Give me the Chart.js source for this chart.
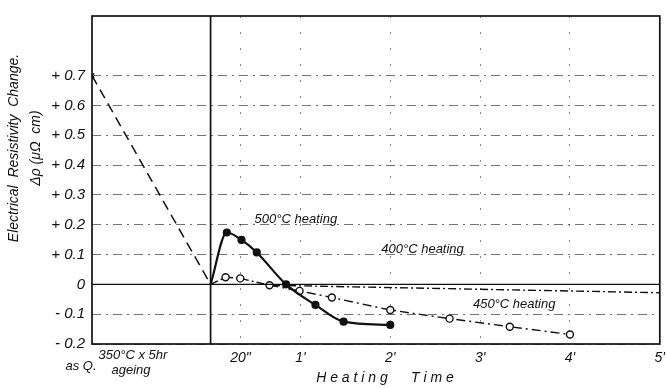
<!DOCTYPE html>
<html>
<head>
<meta charset="utf-8">
<script src="https://cdn.jsdelivr.net/npm/chart.js@4/dist/chart.umd.min.js"></script>
<style>
  body { margin: 0; background: #fff; }
  canvas { display: block; }
</style>
</head>
<body>
<canvas id="resistivityChart" width="666" height="388"></canvas>
<script>
// heating time in minutes (negative side = as quenched / ageing region)
const ageT = [-1.32, 0];
const ageR = [0.70, 0];

const t500 = [0, 0.181, 0.344, 0.514, 0.84, 1.167, 1.48, 2.0];
const r500 = [0, 0.174, 0.149, 0.107, 0.0, -0.069, -0.125, -0.136];

const t400 = [0, 0.167, 0.33, 0.656, 5.0];
const r400 = [0, 0.024, 0.02, -0.003, -0.028];

const t450 = [0.656, 0.99, 1.35, 2.0, 2.66, 3.33, 4.0];
const r450 = [-0.003, -0.022, -0.044, -0.086, -0.115, -0.142, -0.168];

// axis ticks
const yTicks = [-0.2, -0.1, 0, 0.1, 0.2, 0.3, 0.4, 0.5, 0.6, 0.7];
const yLabels = ['- 0.2', '- 0.1', '0', '+ 0.1', '+ 0.2', '+ 0.3', '+ 0.4', '+ 0.5', '+ 0.6', '+ 0.7'];
const xTicks = [1 / 3, 1, 2, 3, 4, 5];
const xLabels = ['20"', "1'", "2'", "3'", "4'", "5'"];

const FONT = '"Liberation Sans", "DejaVu Sans", sans-serif';

function pts(xs, ys) {
    return xs.map((x, i) => ({ x: x, y: ys[i] }));
}

// frame, zero line, ageing divider and text annotations
const decorations = {
    id: 'decorations',
    afterDraw(chart) {
        const ctx = chart.ctx;
        const area = chart.chartArea;
        const x = chart.scales.x;
        const y = chart.scales.y;
        ctx.save();
        ctx.strokeStyle = '#111';
        ctx.setLineDash([]);

        ctx.lineWidth = 1.7;
        ctx.strokeRect(area.left, area.top, area.right - area.left, area.bottom - area.top);

        // zero line
        ctx.lineWidth = 1.4;
        ctx.beginPath();
        ctx.moveTo(area.left, y.getPixelForValue(0));
        ctx.lineTo(area.right, y.getPixelForValue(0));
        ctx.stroke();

        // start of heating
        ctx.lineWidth = 1.7;
        ctx.beginPath();
        ctx.moveTo(x.getPixelForValue(0), area.top);
        ctx.lineTo(x.getPixelForValue(0), area.bottom);
        ctx.stroke();

        ctx.fillStyle = '#111';
        ctx.font = 'italic 13px ' + FONT;
        ctx.textBaseline = 'middle';
        ctx.textAlign = 'left';
        ctx.fillText('500°C heating', x.getPixelForValue(0.49), y.getPixelForValue(0.218));
        ctx.fillText('400°C heating', x.getPixelForValue(1.9), y.getPixelForValue(0.116));
        ctx.fillText('450°C heating', x.getPixelForValue(2.92), y.getPixelForValue(-0.068));

        // left part of the time axis
        ctx.textAlign = 'center';
        ctx.font = 'italic 13px ' + FONT;
        ctx.fillText('as Q.', 81, 366);
        ctx.fillText('350°C x 5hr', 133, 355);
        ctx.fillText('ageing', 131, 370);

        // axis titles
        ctx.font = 'italic 14px ' + FONT;
        ctx.fillText('H e a t i n g      T i m e', 385, 378);

        ctx.translate(14, 148);
        ctx.rotate(-Math.PI / 2);
        ctx.font = 'italic 14px ' + FONT;
        ctx.fillText('Electrical  Resistivity  Change.', 0, 0);
        ctx.fillText('Δρ (μΩ  cm)', 0, 22);
        ctx.restore();
    }
};

const ctx = document.getElementById('resistivityChart').getContext('2d');

new Chart(ctx, {
    type: 'line',
    data: {
        datasets: [
            {
                label: 'ageing',
                data: pts(ageT, ageR),
                borderColor: '#111',
                borderWidth: 1.5,
                borderDash: [10, 6],
                pointStyle: 'crossRot',
                pointRadius: [3, 0],
                pointBorderColor: '#111',
                pointBorderWidth: 1.5
            },
            {
                label: '500°C heating',
                data: pts(t500, r500),
                borderColor: '#111',
                borderWidth: 2.2,
                cubicInterpolationMode: 'monotone',
                pointRadius: t500.map((t, i) => i === 0 ? 0 : 3),
                pointBackgroundColor: '#111',
                pointBorderColor: '#111'
            },
            {
                label: '400°C heating',
                data: pts(t400, r400),
                borderColor: '#111',
                borderWidth: 1.4,
                borderDash: [8, 3, 2, 3],
                pointRadius: t400.map((t, i) => (i === 0 || i === t400.length - 1) ? 0 : 3.5),
                pointBackgroundColor: '#fff',
                pointBorderColor: '#111',
                pointBorderWidth: 1.4
            },
            {
                label: '450°C heating',
                data: pts(t450, r450),
                borderColor: '#111',
                borderWidth: 1.4,
                borderDash: [9, 4, 2, 4],
                pointRadius: t450.map((t, i) => i === 0 ? 0 : 3.5),
                pointBackgroundColor: '#fff',
                pointBorderColor: '#111',
                pointBorderWidth: 1.4
            }
        ]
    },
    options: {
        responsive: false,
        animation: false,
        layout: { padding: { top: 10, right: 5, left: 0, bottom: 0 } },
        plugins: {
            legend: { display: false },
            tooltip: { enabled: false }
        },
        scales: {
            x: {
                type: 'linear',
                min: -1.32,
                max: 5,
                afterBuildTicks: scale => { scale.ticks = xTicks.map(v => ({ value: v })); },
                afterFit: scale => {
                    scale.height = 44;
                    scale.paddingRight = 0;
                    scale.paddingLeft = 0;
                },
                grid: {
                    color: 'rgba(0,0,0,0.45)',
                    lineWidth: 1,
                    drawTicks: false
                },
                border: { display: false, dash: [2, 14] },
                ticks: {
                    padding: 6,
                    color: '#111',
                    maxRotation: 0,
                    autoSkip: false,
                    font: { family: FONT, size: 14, style: 'italic' },
                    callback: (v, i) => xLabels[i]
                }
            },
            y: {
                type: 'linear',
                min: -0.2,
                max: 0.9,
                afterBuildTicks: scale => { scale.ticks = yTicks.map(v => ({ value: v })); },
                afterFit: scale => { scale.width = 92; },
                grid: {
                    color: 'rgba(0,0,0,0.55)',
                    lineWidth: 1,
                    drawTicks: false
                },
                border: { display: false, dash: [9, 5, 2, 5] },
                ticks: {
                    padding: 7,
                    color: '#111',
                    autoSkip: false,
                    font: { family: FONT, size: 15, style: 'italic' },
                    callback: (v, i) => yLabels[i]
                }
            }
        }
    },
    plugins: [decorations]
});
</script>
</body>
</html>
